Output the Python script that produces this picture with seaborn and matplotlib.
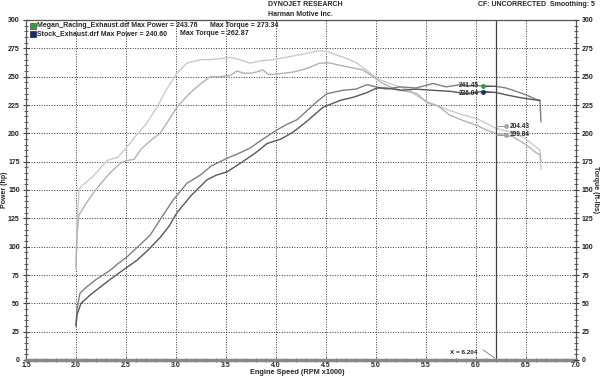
import numpy as np
import matplotlib
matplotlib.use("Agg")
import matplotlib.pyplot as plt
import seaborn as sns
from matplotlib.ticker import MultipleLocator

# Dyno run data (RPM x1000 vs value)
megan_tq_rpm = [2.00, 2.01, 2.03, 2.05, 2.17, 2.31, 2.38, 2.42, 2.51, 2.60, 2.70, 2.81, 2.90, 3.01,
                3.11, 3.25, 3.34, 3.44, 3.54, 3.64, 3.74, 3.85, 3.97, 4.10, 4.21, 4.33, 4.44,
                4.52, 4.61, 4.71, 4.81, 4.90, 4.97, 5.05, 5.14, 5.24, 5.34, 5.41, 5.51, 5.60,
                5.74, 5.88, 6.01, 6.10, 6.20, 6.30, 6.37, 6.50, 6.60, 6.64, 6.65]
megan_tq = [80, 120, 150, 153, 162, 176, 178, 179, 188, 198, 208, 223, 238, 253,
            262, 265, 265, 266, 267, 265, 262, 264, 265, 267, 269, 271, 273,
            272, 269, 266, 262, 256, 251, 247, 244, 241, 238, 233, 228, 225,
            220, 216, 213, 209, 204.4, 202, 201, 195, 188, 185, 168]

stock_tq_rpm = [2.00, 2.01, 2.03, 2.05, 2.10, 2.17, 2.25, 2.35, 2.45, 2.51, 2.58, 2.65, 2.75,
                2.84, 2.93, 3.01, 3.09, 3.17, 3.25, 3.34, 3.44, 3.54, 3.61, 3.68, 3.74, 3.80,
                3.87, 3.92, 3.97, 4.07, 4.17, 4.30, 4.44, 4.54, 4.64, 4.75, 4.87, 4.97, 5.05,
                5.14, 5.25, 5.41, 5.51, 5.62, 5.74, 5.88, 6.01, 6.10, 6.20, 6.37, 6.50, 6.60,
                6.64, 6.65]
stock_tq = [82, 110, 128, 131, 138, 147, 156, 166, 174, 176, 177, 186, 194,
            200, 212, 223, 231, 238, 244, 250, 250, 251, 255, 253, 253, 254,
            256, 252, 252, 253, 254, 257, 262, 262, 260, 258, 256, 250, 245,
            241, 238, 235, 227, 224, 216, 211, 207, 203, 199.8, 197, 190, 183,
            181, 175]

megan_hp_rpm = [2.00, 2.01, 2.04, 2.10, 2.20, 2.34, 2.42, 2.51, 2.62, 2.74, 2.85, 2.97, 3.11,
                3.24, 3.35, 3.51, 3.62, 3.74, 3.87, 4.01, 4.11, 4.21, 4.31, 4.41, 4.51, 4.67,
                4.80, 4.91, 5.00, 5.10, 5.24, 5.40, 5.57, 5.70, 5.85, 5.95, 6.07, 6.20, 6.30,
                6.37, 6.50, 6.60, 6.64, 6.65]
megan_hp = [30, 45, 59, 64, 71, 79, 85, 91, 100, 110, 125, 141, 156,
            163, 171, 178, 182, 187, 195, 203, 208, 212, 220, 228, 235, 238,
            239, 243, 241, 239, 241, 240, 244, 241, 243, 242, 242, 241.5, 240,
            238, 234, 230, 229, 210]

stock_hp_rpm = [2.00, 2.01, 2.05, 2.15, 2.34, 2.45, 2.61, 2.72, 2.84, 2.93, 3.01, 3.15, 3.31,
                3.40, 3.51, 3.65, 3.80, 3.91, 4.05, 4.17, 4.30, 4.47, 4.64, 4.78, 4.91, 5.01,
                5.10, 5.25, 5.40, 5.57, 5.75, 5.90, 6.07, 6.20, 6.30, 6.41, 6.55, 6.64]
stock_hp = [30, 40, 50, 58, 71, 78, 88, 97, 108, 118, 130, 145, 159,
            163, 166, 174, 183, 191, 195, 201, 210, 223, 229, 232, 236, 240,
            240, 238, 239, 238, 237, 235, 237, 236, 234, 232, 230, 229]

cursor_x = 6.204
hp_readout = [241.45, 236.04]
tq_readout = [204.43, 199.84]

sns.set_theme(style="white")
plt.rcParams['font.family'] = ['Liberation Sans', 'DejaVu Sans']
plt.rcParams['font.weight'] = 'bold'
FS = 5.0

fig = plt.figure(figsize=(6, 3.77), dpi=100)
ax = fig.add_axes([26 / 600, 17 / 377, 550 / 600, 340 / 377])

sns.lineplot(x=megan_tq_rpm, y=megan_tq, ax=ax, color="#cbcbcb", lw=1.0, sort=False)
sns.lineplot(x=stock_tq_rpm, y=stock_tq, ax=ax, color="#b2b2b2", lw=1.0, sort=False)
sns.lineplot(x=megan_hp_rpm, y=megan_hp, ax=ax, color="#7d827d", lw=1.0, sort=False)
sns.lineplot(x=stock_hp_rpm, y=stock_hp, ax=ax, color="#55585e", lw=1.0, sort=False)

ax.set_xlim(1.5, 7.0)
ax.set_ylim(0, 300)
ax.xaxis.set_major_locator(MultipleLocator(0.5))
ax.xaxis.set_minor_locator(MultipleLocator(0.1))
ax.yaxis.set_major_locator(MultipleLocator(25))
ax.yaxis.set_minor_locator(MultipleLocator(5))
ax.set_xticklabels([f"{v:.1f}" for v in ax.get_xticks()])
ax.grid(True, which="major", color="#333333", linestyle=(0, (1, 1.6)), linewidth=0.7)
ax.tick_params(axis="both", which="both", labelsize=FS, colors="#444444", labelcolor="#222222",
               direction="inout", left=True, bottom=True)
ax.tick_params(axis="y", which="major", length=5, width=0.8, pad=2)
ax.tick_params(axis="y", which="minor", length=3, width=0.6)
ax.tick_params(axis="x", which="major", length=3, width=0.8, pad=0)
ax.tick_params(axis="x", which="minor", length=3, width=0.6)
for s in ["left", "top", "right"]:
    ax.spines[s].set_color("#555555")
    ax.spines[s].set_linewidth(0.9)
ax.spines["bottom"].set_color("#888888")
ax.spines["bottom"].set_linewidth(2.5)

ax2 = ax.twinx()
ax2.set_ylim(0, 300)
ax2.yaxis.set_major_locator(MultipleLocator(25))
ax2.yaxis.set_minor_locator(MultipleLocator(5))
ax2.tick_params(axis="y", which="both", labelsize=FS, colors="#444444", labelcolor="#222222",
                direction="inout", right=True)
ax2.tick_params(axis="y", which="major", length=5, width=0.8, pad=1.5)
ax2.tick_params(axis="y", which="minor", length=3, width=0.6)
for s in ax2.spines.values():
    s.set_visible(False)
ax2.grid(False)

ax.set_xlabel("")
ax.set_ylabel("")
fig.text(5 / 600, 1 - 190 / 377, "Power (hp)", rotation=90, ha="center", va="center", fontsize=5.0)
fig.text(596 / 600, 1 - 190 / 377, "Torque (ft-lbs)", rotation=270, ha="center", va="center", fontsize=5.0)
fig.text(297 / 600, 1 - 373 / 377, "Engine Speed (RPM x1000)", ha="center", va="center", fontsize=5.3)

# header texts
fig.text(268 / 600, 1 - 5 / 377, "DYNOJET RESEARCH", ha="left", va="center", fontsize=FS)
fig.text(268 / 600, 1 - 14 / 377, "Harman Motive Inc.", ha="left", va="center", fontsize=FS)
fig.text(595 / 600, 1 - 5 / 377, "CF: UNCORRECTED  Smoothing: 5", ha="right", va="center", fontsize=FS)

# run legend
ax.plot([1.57], [295], marker="s", ms=4, color="#3a9a3a", mec="#335533", mew=0.5, clip_on=False)
ax.plot([1.57], [288], marker="s", ms=4, color="#1e2a6e", mec="#223", mew=0.5, clip_on=False)
ax.text(1.61, 295, "Megan_Racing_Exhaust.drf Max Power = 243.76", fontsize=FS, va="center")
ax.text(3.34, 295, "Max Torque = 273.34", fontsize=FS, va="center")
ax.text(1.61, 288, "Stock_Exhaust.drf Max Power = 240.60", fontsize=FS, va="center")
ax.text(3.04, 288, "Max Torque = 262.87", fontsize=FS, va="center")

# cursor and readouts
ax.axvline(cursor_x, color="#444444", lw=0.9)
ax.text(6.01, 7, "X = 6.204", fontsize=4.6, ha="right", va="center")
ax.plot([6.07, 6.19], [9, 1.5], color="#777777", lw=0.6)
hp_x, tq_x = 6.07, 6.30
for val, col, dy in zip(hp_readout, ["#3a9a3a", "#1e2a6e"], [0.6, -0.6]):
    ax.plot([hp_x, cursor_x], [val, val], color="#555555", lw=0.7)
    ax.plot([hp_x], [val], marker="o", ms=2.5, color=col)
    ax.text(hp_x - 0.04, val + dy, f"{val:.2f}", fontsize=4.7, ha="right", va="center")
for val, col, dy in zip(tq_readout, ["#a0a8a0", "#a0a0a8"], [1.6, -1.2]):
    ax.plot([cursor_x, tq_x], [val + dy, val + dy], color="#999999", lw=0.7)
    ax.plot([tq_x], [val + dy], marker="o", ms=2.5, color=col)
    ax.text(tq_x + 0.04, val + dy, f"{val:.2f}", fontsize=4.7, ha="left", va="center")

fig.savefig("out.png", dpi=100)
